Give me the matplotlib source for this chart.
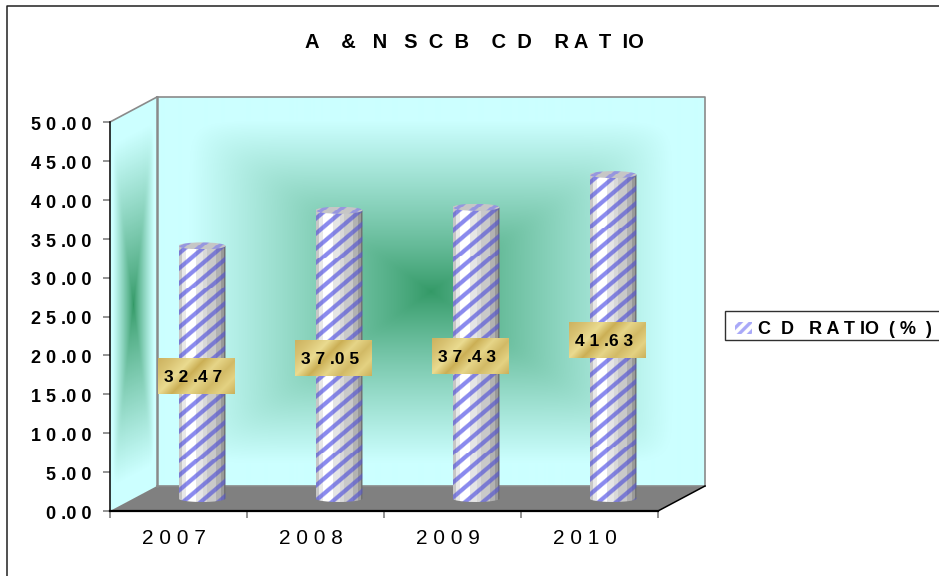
import numpy as np
import matplotlib
matplotlib.use("Agg")
import matplotlib.pyplot as plt
from matplotlib.lines import Line2D
from matplotlib.patches import Ellipse, PathPatch, Polygon, Rectangle
from matplotlib.path import Path
from matplotlib.transforms import ScaledTranslation

# ---- chart content ----
categories = ["2 0 0 7", "2 0 0 8", "2 0 0 9", "2 0 1 0"]
cd_ratio = [32.47, 37.05, 37.43, 41.63]
y_ticks = [0, 5, 10, 15, 20, 25, 30, 35, 40, 45, 50]
title_text = "A    &   N   S  C  B    C  D    R A  T  IO"
legend_text = "C  D   R A T IO  ( %  )"

W, H = 939, 576
AX_L, AX_R, AX_T, AX_B = 110, 658, 122, 511
PX_X = (AX_R - AX_L) / 4        # pixels per category
PX_Y = (AX_B - AX_T) / 50       # pixels per value unit
DEPTH_X = 47 / PX_X             # 3-D depth offset in data units
DEPTH_Y = 25 / PX_Y
BAR_W = 47 / PX_X
CAP_H = 3.5 / PX_Y              # semi-minor axis of the cylinder ends

plt.rcParams["font.family"] = ["Liberation Sans", "DejaVu Sans"]

fig = plt.figure(figsize=(W / 100, H / 100), dpi=100, facecolor="white")
ax = fig.add_axes([AX_L / W, 1 - AX_B / H, (AX_R - AX_L) / W, (AX_B - AX_T) / H])
ax.set_facecolor("none")


def hexrgb(c):
    return np.array(matplotlib.colors.to_rgb(c))


CENTER, EDGE = hexrgb("#339966"), hexrgb("#CCFFFF")


def from_center(u, v):
    """Rectangular from-centre fill; u and v run over -1..1."""
    r = (np.abs(u) ** 14 + np.abs(v) ** 14) ** (1 / 14)
    t = np.clip(r / 0.88, 0, 1)[..., None] ** 0.85
    return CENTER * (1 - t) + EDGE * t


# Back wall
u, v = np.meshgrid(np.linspace(-1, 1, 549), np.linspace(-1, 1, 389))
ax.imshow(from_center(u, v),
          extent=(DEPTH_X, 4 + DEPTH_X, DEPTH_Y, 50 + DEPTH_Y),
          origin="lower", aspect="auto", zorder=1, clip_on=False,
          interpolation="bilinear")

# Left wall, sheared back along the depth offset
nu, nv = 47, 389
gx, gy = np.meshgrid(np.linspace(0, 1, nu + 1), np.linspace(0, 1, nv + 1))
cu, cv = np.meshgrid((np.arange(nu) + 0.5) / nu * 2 - 1, (np.arange(nv) + 0.5) / nv * 2 - 1)
ax.pcolormesh(gx * DEPTH_X, gy * 50 + gx * DEPTH_Y, from_center(cu, cv),
              shading="flat", antialiased=False, edgecolors="none",
              zorder=1, clip_on=False)

# Floor
ax.add_patch(Polygon([(0, 0), (DEPTH_X, DEPTH_Y), (4 + DEPTH_X, DEPTH_Y), (4, 0)],
                     closed=True, facecolor="#808080", edgecolor="none",
                     zorder=1.5, clip_on=False))

# Wall edges
wall_kw = dict(color="#8a8a8a", lw=1.2, zorder=1.6, clip_on=False, solid_capstyle="projecting")
ax.plot([0, DEPTH_X], [50, 50 + DEPTH_Y], **wall_kw)
ax.plot([DEPTH_X, 4 + DEPTH_X, 4 + DEPTH_X], [50 + DEPTH_Y, 50 + DEPTH_Y, DEPTH_Y], **wall_kw)
ax.plot([DEPTH_X, DEPTH_X], [50 + DEPTH_Y, DEPTH_Y], **{**wall_kw, "lw": 1.8})
ax.plot([DEPTH_X, 4 + DEPTH_X], [DEPTH_Y, DEPTH_Y], **wall_kw)
ax.plot([4, 4 + DEPTH_X], [0, DEPTH_Y], color="black", lw=1.1, zorder=1.6, clip_on=False)


def stripes(w, h, period=15.0, slope=0.85, half=3.6, soft=1.7):
    """Soft diagonal stripe mask, 1 on a stripe."""
    x, y = np.meshgrid(np.arange(w), np.arange(h))
    s = (x * slope + y) % period
    return np.clip((half - np.abs(s - period / 2)) / soft, 0, 1)[..., None]


def cylinder_texture(w, h):
    xn = (np.arange(w) + 0.5) / w
    edges = [0.07, 0.14, 0.36, 0.50, 0.60, 0.79, 0.89, 0.96]
    vals = np.array([0.78, 0.91, 1.0, 0.90, 0.85, 0.79, 0.70, 0.60, 0.45])
    shade = np.tile(vals[np.searchsorted(edges, xn)][None, :, None], (h, 1, 1))
    blue = hexrgb("#8A8AEE") * (0.45 + 0.55 * shade)
    mask = stripes(w, h)
    return shade * (1 - mask) + blue * mask


def cap_texture(w, h):
    mask = stripes(w, h) * 0.8
    return np.full((h, w, 3), 0.78) * (1 - mask) + hexrgb("#8A8AE6") * mask


def gold_texture(w, h):
    x, y = np.meshgrid(np.arange(w) / w, np.arange(h) / h)
    d = (x + 0.45 * y) / 1.45
    pos = [0, 0.14, 0.30, 0.42, 0.56, 0.70, 0.84, 1]
    cols = np.array([hexrgb(c) for c in ["#CDB360", "#D8C272", "#EADB90", "#CBAF55",
                                         "#E6D588", "#D2BA66", "#E4D282", "#C8AD58"]])
    return np.dstack([np.interp(d, pos, cols[:, i]) for i in range(3)])


for i, val in enumerate(cd_ratio):
    cx = i + 0.5 + DEPTH_X / 2
    base = DEPTH_Y / 2
    top = base + val
    x0, x1 = cx - BAR_W / 2, cx + BAR_W / 2
    h_px = int(round(val * PX_Y + 7))

    theta = np.linspace(np.pi, 2 * np.pi, 40)
    verts = [(x0, top)] + list(zip(cx + BAR_W / 2 * np.cos(theta),
                                   base + CAP_H * np.sin(theta))) + [(x1, top), (x0, top)]
    body_clip = PathPatch(Path(verts), transform=ax.transData)
    img = ax.imshow(cylinder_texture(47, h_px),
                    extent=(x0, x1, base - CAP_H, top), aspect="auto",
                    interpolation="nearest", zorder=3)
    img.set_clip_path(body_clip)

    cap_clip = Ellipse((cx, top), BAR_W, 2 * CAP_H, transform=ax.transData)
    img = ax.imshow(cap_texture(47, 8),
                    extent=(x0, x1, top - CAP_H, top + CAP_H), aspect="auto",
                    interpolation="nearest", zorder=3.1)
    img.set_clip_path(cap_clip)

    # Value label plate
    lx = cx - 6 / PX_X
    ly = base + val / 2 - 3.5 / PX_Y
    lw, lh = 77 / PX_X, 36 / PX_Y
    ax.imshow(gold_texture(77, 36),
              extent=(lx - lw / 2, lx + lw / 2, ly - lh / 2, ly + lh / 2),
              aspect="auto", interpolation="bilinear", zorder=4, clip_on=False)
    whole, frac = f"{val:.2f}".split(".")
    ax.text(lx - 2.5 / PX_X, ly, " ".join(whole) + " ." + " ".join(frac),
            ha="center", va="center_baseline", fontsize=12.5, fontweight="bold",
            color="black", zorder=5)

ax.set_xlim(0, 4)
ax.set_ylim(0, 50)

ax.set_yticks(y_ticks)
ax.set_yticklabels([" ".join(str(t)) + " .0 0" for t in y_ticks],
                   fontsize=13, fontweight="bold")
ax.tick_params(axis="y", length=5, width=1.2, color="#808080", pad=8.5)
shift_down = ScaledTranslation(0, -1 / 72, fig.dpi_scale_trans)
for lab in ax.get_yticklabels():
    lab.set_transform(lab.get_transform() + shift_down)

ax.set_xticks(range(5))
ax.set_xticklabels([])
ax.set_xticks(np.arange(4) + 0.5, labels=categories, minor=True)
ax.tick_params(axis="x", which="major", length=5, width=1.2, color="#808080")
ax.tick_params(axis="x", which="minor", length=0, pad=13, labelsize=15)
shift_left = ScaledTranslation(-3.6 / 72, 0, fig.dpi_scale_trans)
for lab in ax.get_xticklabels(minor=True):
    lab.set_transform(lab.get_transform() + shift_left)

for name in ("top", "right"):
    ax.spines[name].set_visible(False)
ax.spines["left"].set_linewidth(1.1)
ax.spines["bottom"].set_linewidth(1.6)
ax.spines["left"].set_zorder(2)
ax.spines["bottom"].set_zorder(2)


def fx(px):
    return px / W


def fy(py):
    return 1 - py / H


# Outer chart frame, running off the top right and the bottom
fig.add_artist(Line2D([fx(7), fx(7), fx(W)], [0, fy(6), fy(6)], color="#202020", lw=1.1))

fig.text(fx(474), fy(40), title_text, ha="center", va="center_baseline",
         fontsize=14.5, fontweight="bold")

# Legend box, key and label
fig.add_artist(Rectangle((fx(725), fy(340)), fx(230), 29 / H, transform=fig.transFigure,
                         facecolor="white", edgecolor="#303030", lw=1))
key_mask = stripes(17, 12, period=10.0, slope=1.0, half=3.2, soft=1.6)
key = (1 - key_mask) * 1.0 + hexrgb("#A8A8F8") * key_mask
fig.figimage(key, xo=735, yo=H - 334, zorder=5)
fig.text(fx(758), fy(328), legend_text, ha="left", va="center_baseline",
         fontsize=13, fontweight="bold", zorder=6)

fig.savefig("out.png", dpi=100, facecolor="white")
